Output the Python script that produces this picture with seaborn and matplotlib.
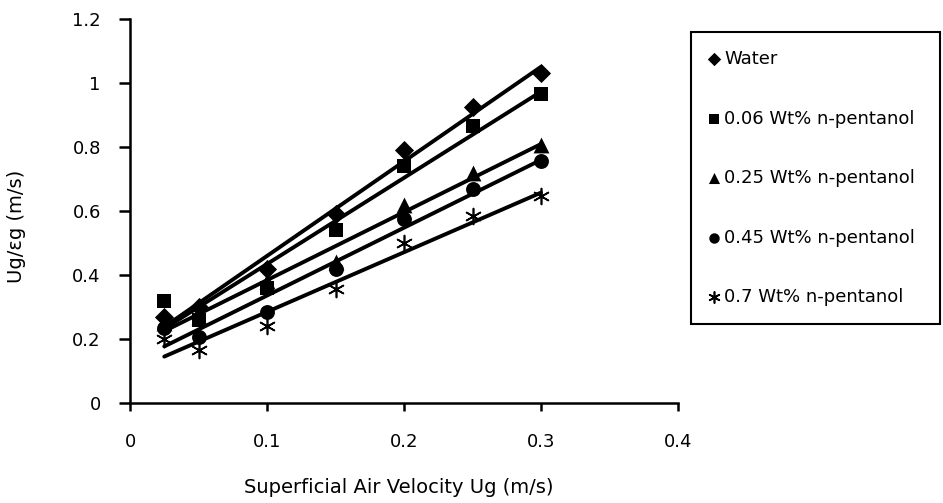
import numpy as np
import pandas as pd
import matplotlib
matplotlib.use("Agg")
import matplotlib.pyplot as plt
import seaborn as sns

# ---- data ----
x_vals = [0.025, 0.05, 0.1, 0.15, 0.2, 0.25, 0.3]
water = [0.27, 0.30, 0.42, 0.59, 0.79, 0.925, 1.03]
pent_006 = [0.32, 0.26, 0.36, 0.54, 0.74, 0.865, 0.965]
pent_025 = [0.25, 0.27, 0.38, 0.44, 0.62, 0.72, 0.805]
pent_045 = [0.235, 0.205, 0.285, 0.42, 0.575, 0.67, 0.755]
pent_07 = [0.20, 0.165, 0.24, 0.355, 0.50, 0.585, 0.647]

series_names = ["Water", "0.06 Wt% n-pentanol", "0.25 Wt% n-pentanol",
                "0.45 Wt% n-pentanol", "0.7 Wt% n-pentanol"]
series_values = [water, pent_006, pent_025, pent_045, pent_07]

x_ticks = [0, 0.1, 0.2, 0.3, 0.4]
x_tick_labels = ["0", "0.1", "0.2", "0.3", "0.4"]
y_ticks = [0, 0.2, 0.4, 0.6, 0.8, 1.0, 1.2]
y_tick_labels = ["0", "0.2", "0.4", "0.6", "0.8", "1", "1.2"]

df = pd.DataFrame({
    "x": np.tile(x_vals, len(series_names)),
    "y": np.concatenate(series_values),
    "series": np.repeat(series_names, len(x_vals)),
})

# ---- style ----
sns.set_style("white")
plt.rcParams["font.family"] = ["DejaVu Sans"]
plt.rcParams["text.color"] = "black"
plt.rcParams["axes.labelcolor"] = "black"

fig = plt.figure(figsize=(9.43, 5.03), dpi=100)
ax = fig.add_axes([130 / 943, 100 / 503, 548 / 943, 384 / 503])

markers = {
    "Water": ("D", 95, 0),
    "0.06 Wt% n-pentanol": ("s", 115, 0),
    "0.25 Wt% n-pentanol": ("^", 130, 0),
    "0.45 Wt% n-pentanol": ("o", 115, 0),
    "0.7 Wt% n-pentanol": ((6, 2, 0), 130, 1.2),
}

for name in series_names:
    sub = df[df["series"] == name]
    m, s, lw = markers[name]
    sns.regplot(data=sub, x="x", y="y", ax=ax, ci=None, truncate=True,
                color="black", label=name, marker=m,
                scatter_kws=dict(s=s, linewidths=lw, alpha=1),
                line_kws=dict(lw=2.8, color="black"))

ax.set_xlim(0, 0.4)
ax.set_ylim(0, 1.2)
ax.set_xticks(x_ticks)
ax.set_xticklabels(x_tick_labels)
ax.set_yticks(y_ticks)
ax.set_yticklabels(y_tick_labels)

for side in ["top", "right"]:
    ax.spines[side].set_visible(False)
for side in ["left", "bottom"]:
    ax.spines[side].set_linewidth(1.8)
    ax.spines[side].set_color("black")

ax.tick_params(axis="y", direction="out", length=8, width=1.8, pad=13,
               labelsize=13, left=True, colors="black")
ax.tick_params(axis="x", direction="out", length=5.5, width=1.8, pad=16,
               labelsize=13, bottom=True, colors="black")

ax.set_xlabel("Superficial Air Velocity Ug (m/s)", fontsize=14, color="black")
ax.set_ylabel("Ug/εg (m/s)", fontsize=14, color="black")
ax.xaxis.set_label_coords(0.49, -0.195)
ax.yaxis.set_label_coords(-0.19, 0.46)

leg = ax.legend(loc="upper left", bbox_to_anchor=(691 / 943, 1 - 32 / 503, 249 / 943, 0.0),
                bbox_transform=fig.transFigure, mode="expand",
                frameon=True, fancybox=False, shadow=False, fontsize=13,
                markerscale=0.7, handlelength=0.6, handletextpad=0.25,
                labelspacing=2.3, borderpad=1.0, borderaxespad=0.0)
leg.get_frame().set_edgecolor("black")
leg.get_frame().set_linewidth(1.5)
leg.get_frame().set_alpha(1)
for t in leg.get_texts():
    t.set_color("black")

fig.savefig("out.png", dpi=100)
